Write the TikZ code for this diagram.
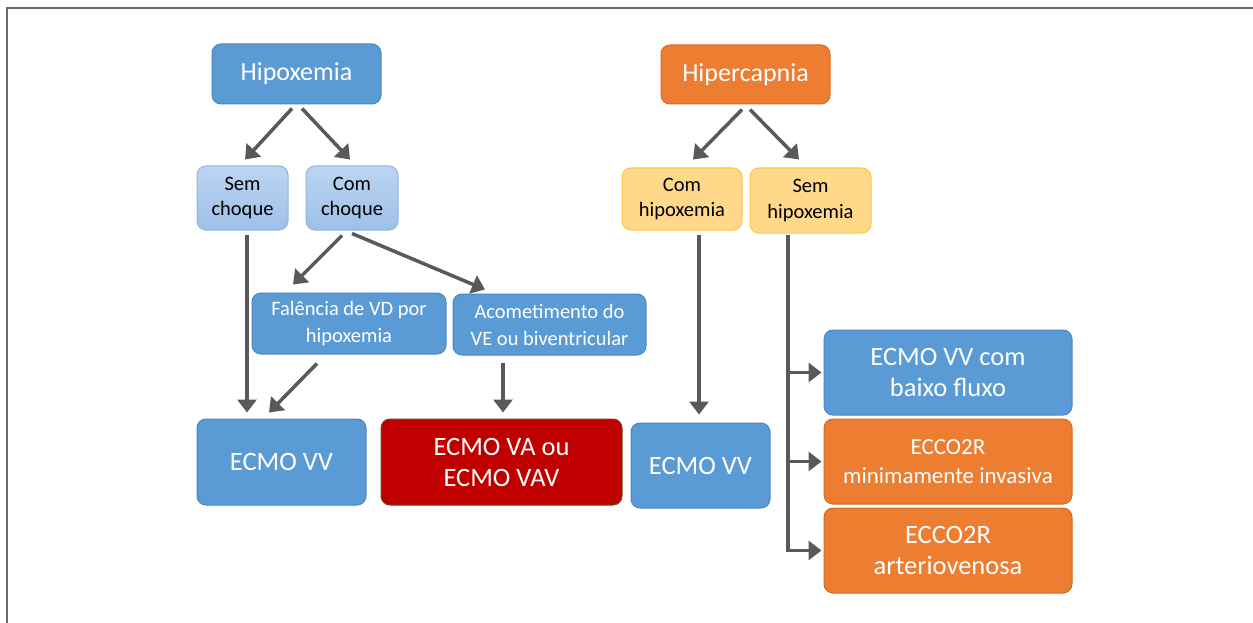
\documentclass[tikz,border=0pt]{standalone}
\usepackage{fontspec}
\setmainfont{Carlito}
\usetikzlibrary{arrows.meta,calc}
\definecolor{bfill}{HTML}{5B9BD5}
\definecolor{bdraw}{HTML}{4A86C2}
\definecolor{lbtop}{HTML}{BDD5F0}
\definecolor{lbbot}{HTML}{9DC0E8}
\definecolor{lbdraw}{HTML}{8EB5E4}
\definecolor{yfill}{HTML}{FFD88A}
\definecolor{ydraw}{HTML}{FFC640}
\definecolor{ofill}{HTML}{ED7D31}
\definecolor{odraw}{HTML}{D26A24}
\definecolor{rfill}{HTML}{C00000}
\definecolor{rdraw}{HTML}{6E4A1A}
\definecolor{arrc}{HTML}{595959}
\definecolor{framec}{HTML}{6B6B6B}
\tikzset{
  box/.style={rounded corners=9pt, inner sep=0pt, align=center, line width=1pt},
  bluebox/.style={box, fill=bfill, draw=bdraw, text=white},
  lightbox/.style={box, top color=lbtop, bottom color=lbbot, draw=lbdraw, text=black},
  yelbox/.style={box, fill=yfill, draw=ydraw, text=black},
  orbox/.style={box, fill=ofill, draw=odraw, text=white},
  redbox/.style={box, fill=rfill, draw=rdraw, text=white},
  ft/.style={font=\fontsize{26}{31}\selectfont},
  fs/.style={font=\fontsize{20.5}{25}\selectfont},
  fm/.style={font=\fontsize{20.5}{27}\selectfont},
  fb/.style={font=\fontsize{26.5}{31}\selectfont},
  arr/.style={draw=arrc, line width=3.5pt, -{Triangle[length=13pt,width=19pt]}},
}
\begin{document}
\begin{tikzpicture}[x=1pt,y=-1pt]
\useasboundingbox (0,0) rectangle (1253,623);
\draw[framec, line width=2pt] (1253,8) -- (7,8) -- (7,623);

\node[bluebox, ft, minimum width=169pt, minimum height=60pt] (hipox) at (296.5,74) {Hipoxemia};
\node[orbox, ft, minimum width=169pt, minimum height=59pt] (hiperc) at (745.5,74.5) {Hipercapnia};
\node[lightbox, fs, minimum width=91pt, minimum height=64pt] (semch) at (242.5,198) {Sem\\choque};
\node[lightbox, fs, minimum width=92pt, minimum height=64pt] (comch) at (352,198) {Com\\choque};
\node[yelbox, fs, minimum width=120pt, minimum height=62pt] (comhip) at (682,199) {Com\\hipoxemia};
\node[yelbox, fs, minimum width=121pt, minimum height=65pt] (semhip) at (810.5,200.5) {Sem\\hipoxemia};
\node[bluebox, fm, minimum width=194pt, minimum height=61pt] (falen) at (349,323.5) {Falência de VD por\\hipoxemia};
\node[bluebox, fm, minimum width=193pt, minimum height=61pt] (acom) at (549.5,324.5) {Acometimento do\\VE ou biventricular};
\node[bluebox, fb, minimum width=169pt, minimum height=86pt] (vv1) at (281.5,462) {ECMO VV};
\node[redbox, fb, minimum width=241pt, minimum height=86pt] (va) at (501.5,462) {ECMO VA ou\\ECMO VAV};
\node[bluebox, fb, minimum width=139pt, minimum height=85pt] (vv2) at (700.5,465.5) {ECMO VV};
\node[bluebox, fb, minimum width=248pt, minimum height=85pt] (baixo) at (948,372.5) {ECMO VV com\\baixo fluxo};
\node[orbox, font=\fontsize{23}{29}\selectfont, minimum width=248pt, minimum height=85pt] (mini) at (948,461.5) {ECCO2R\\minimamente invasiva};
\node[orbox, fb, minimum width=248pt, minimum height=85pt] (arter) at (948,550.5) {ECCO2R\\arteriovenosa};

\draw[arr] ($(hipox.south)+(-4.5,4)$) -- ($(semch.north)+(2.5,-6)$);
\draw[arr] ($(hipox.south)+(5.5,4)$) -- ($(comch.north)+(-2,-6)$);
\draw[arr] ($(hiperc.south)+(-3.5,5)$) -- ($(comhip.north)+(11,-8)$);
\draw[arr] ($(hiperc.south)+(4.5,5)$) -- ($(semhip.north)+(-11.5,-8)$);
\draw[arr] ($(semch.south)+(4.5,4)$) -- ($(vv1.north)+(-34.5,-6)$);
\draw[arr] ($(comch.south)+(-10,5)$) -- ($(falen.north)+(-56,-8)$);
\draw[arr] ($(comch.south)+(0,3)$) -- ($(acom.north)+(-64.5,-4)$);
\draw[arr] ($(falen.south)+(-32,9)$) -- ($(vv1.north)+(-12.5,-6)$);
\draw[arr] ($(acom.south)+(-46.5,7)$) -- ($(va.north)+(1.5,-6)$);
\draw[arr] ($(comhip.south)+(17,4)$) -- ($(vv2.north)+(-1.5,-8)$);
\coordinate (trunk) at ($(semhip.south)+(-22.5,1)$);
\draw[arr] (trunk) |- ($(arter.west)+(-2,0)$);
\draw[arr] (trunk |- baixo.west) -- ($(baixo.west)+(-2,0)$);
\draw[arr] (trunk |- mini.west) -- ($(mini.west)+(-2,0)$);
\end{tikzpicture}
\end{document}
